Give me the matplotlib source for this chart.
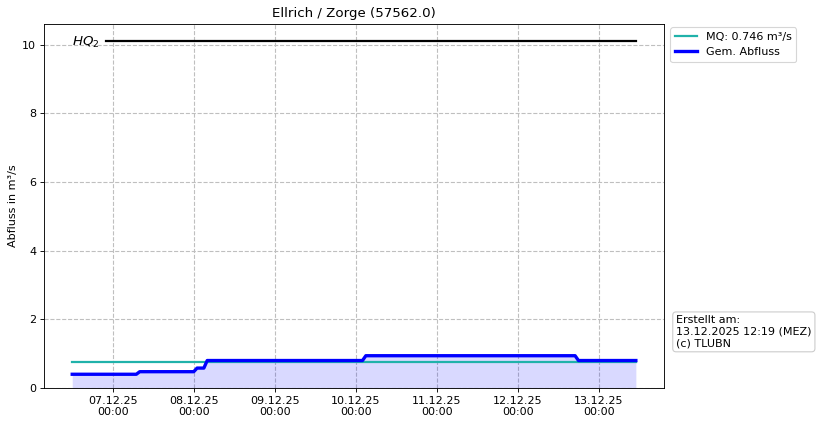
import matplotlib
matplotlib.use("Agg")
import matplotlib.pyplot as plt
import matplotlib.dates as mdates
import pandas as pd

# Gem. Abfluss (break points of the measured series)
times = pd.to_datetime([
    "2025-12-06 12:00", "2025-12-07 07:00", "2025-12-07 08:00",
    "2025-12-08 00:00", "2025-12-08 01:00", "2025-12-08 03:00",
    "2025-12-08 04:00", "2025-12-10 02:00", "2025-12-10 03:00",
    "2025-12-12 17:00", "2025-12-12 18:00", "2025-12-13 11:00",
])
flow = [0.40, 0.40, 0.475, 0.475, 0.58, 0.58, 0.80, 0.80, 0.94, 0.94, 0.80, 0.80]

mq = 0.746
hq2 = 10.1
hq2_start = pd.Timestamp("2025-12-06 22:00")

title = "Ellrich / Zorge (57562.0)"
credit = "Erstellt am:\n13.12.2025 12:19 (MEZ)\n(c) TLUBN"

fig = plt.figure(figsize=(10.25, 5.325), dpi=80)
ax = fig.add_axes([0.0537, 0.0892, 0.7561, 0.8545])

ax.plot([times[0], times[-1]], [mq, mq], color="#20b2aa", lw=2,
        label=f"MQ: {mq} m³/s")
ax.plot(times, flow, color="blue", lw=3, label="Gem. Abfluss")
ax.fill_between(times, 0, flow, color="blue", alpha=0.15, lw=0)
ax.plot([hq2_start, times[-1]], [hq2, hq2], color="black", lw=2)
ax.text(times[0], hq2 - 0.03, "$HQ_2$", fontsize=12, va="center", ha="left")

ax.set_ylim(0, 10.6)
ax.set_yticks([0, 2, 4, 6, 8, 10])
ax.xaxis.set_major_locator(mdates.DayLocator())
ax.xaxis.set_major_formatter(mdates.DateFormatter("%d.%m.%y\n%H:%M"))
for lbl in ax.get_xticklabels():
    lbl.set_ha("center")
ax.grid(True, linestyle="--", color="0.75", lw=1)
ax.set_axisbelow(True)

ax.set_title(title, fontsize=12)
ax.set_ylabel("Abfluss in m³/s")

ax.legend(loc="upper left", bbox_to_anchor=(1.005, 1.0), fontsize=10,
          borderaxespad=0.3)
fig.text(0.8245, 0.182, credit, fontsize=10, ha="left", va="bottom",
         bbox=dict(boxstyle="round", fc="white", ec="0.8"))

fig.savefig("out.png", dpi=80)
